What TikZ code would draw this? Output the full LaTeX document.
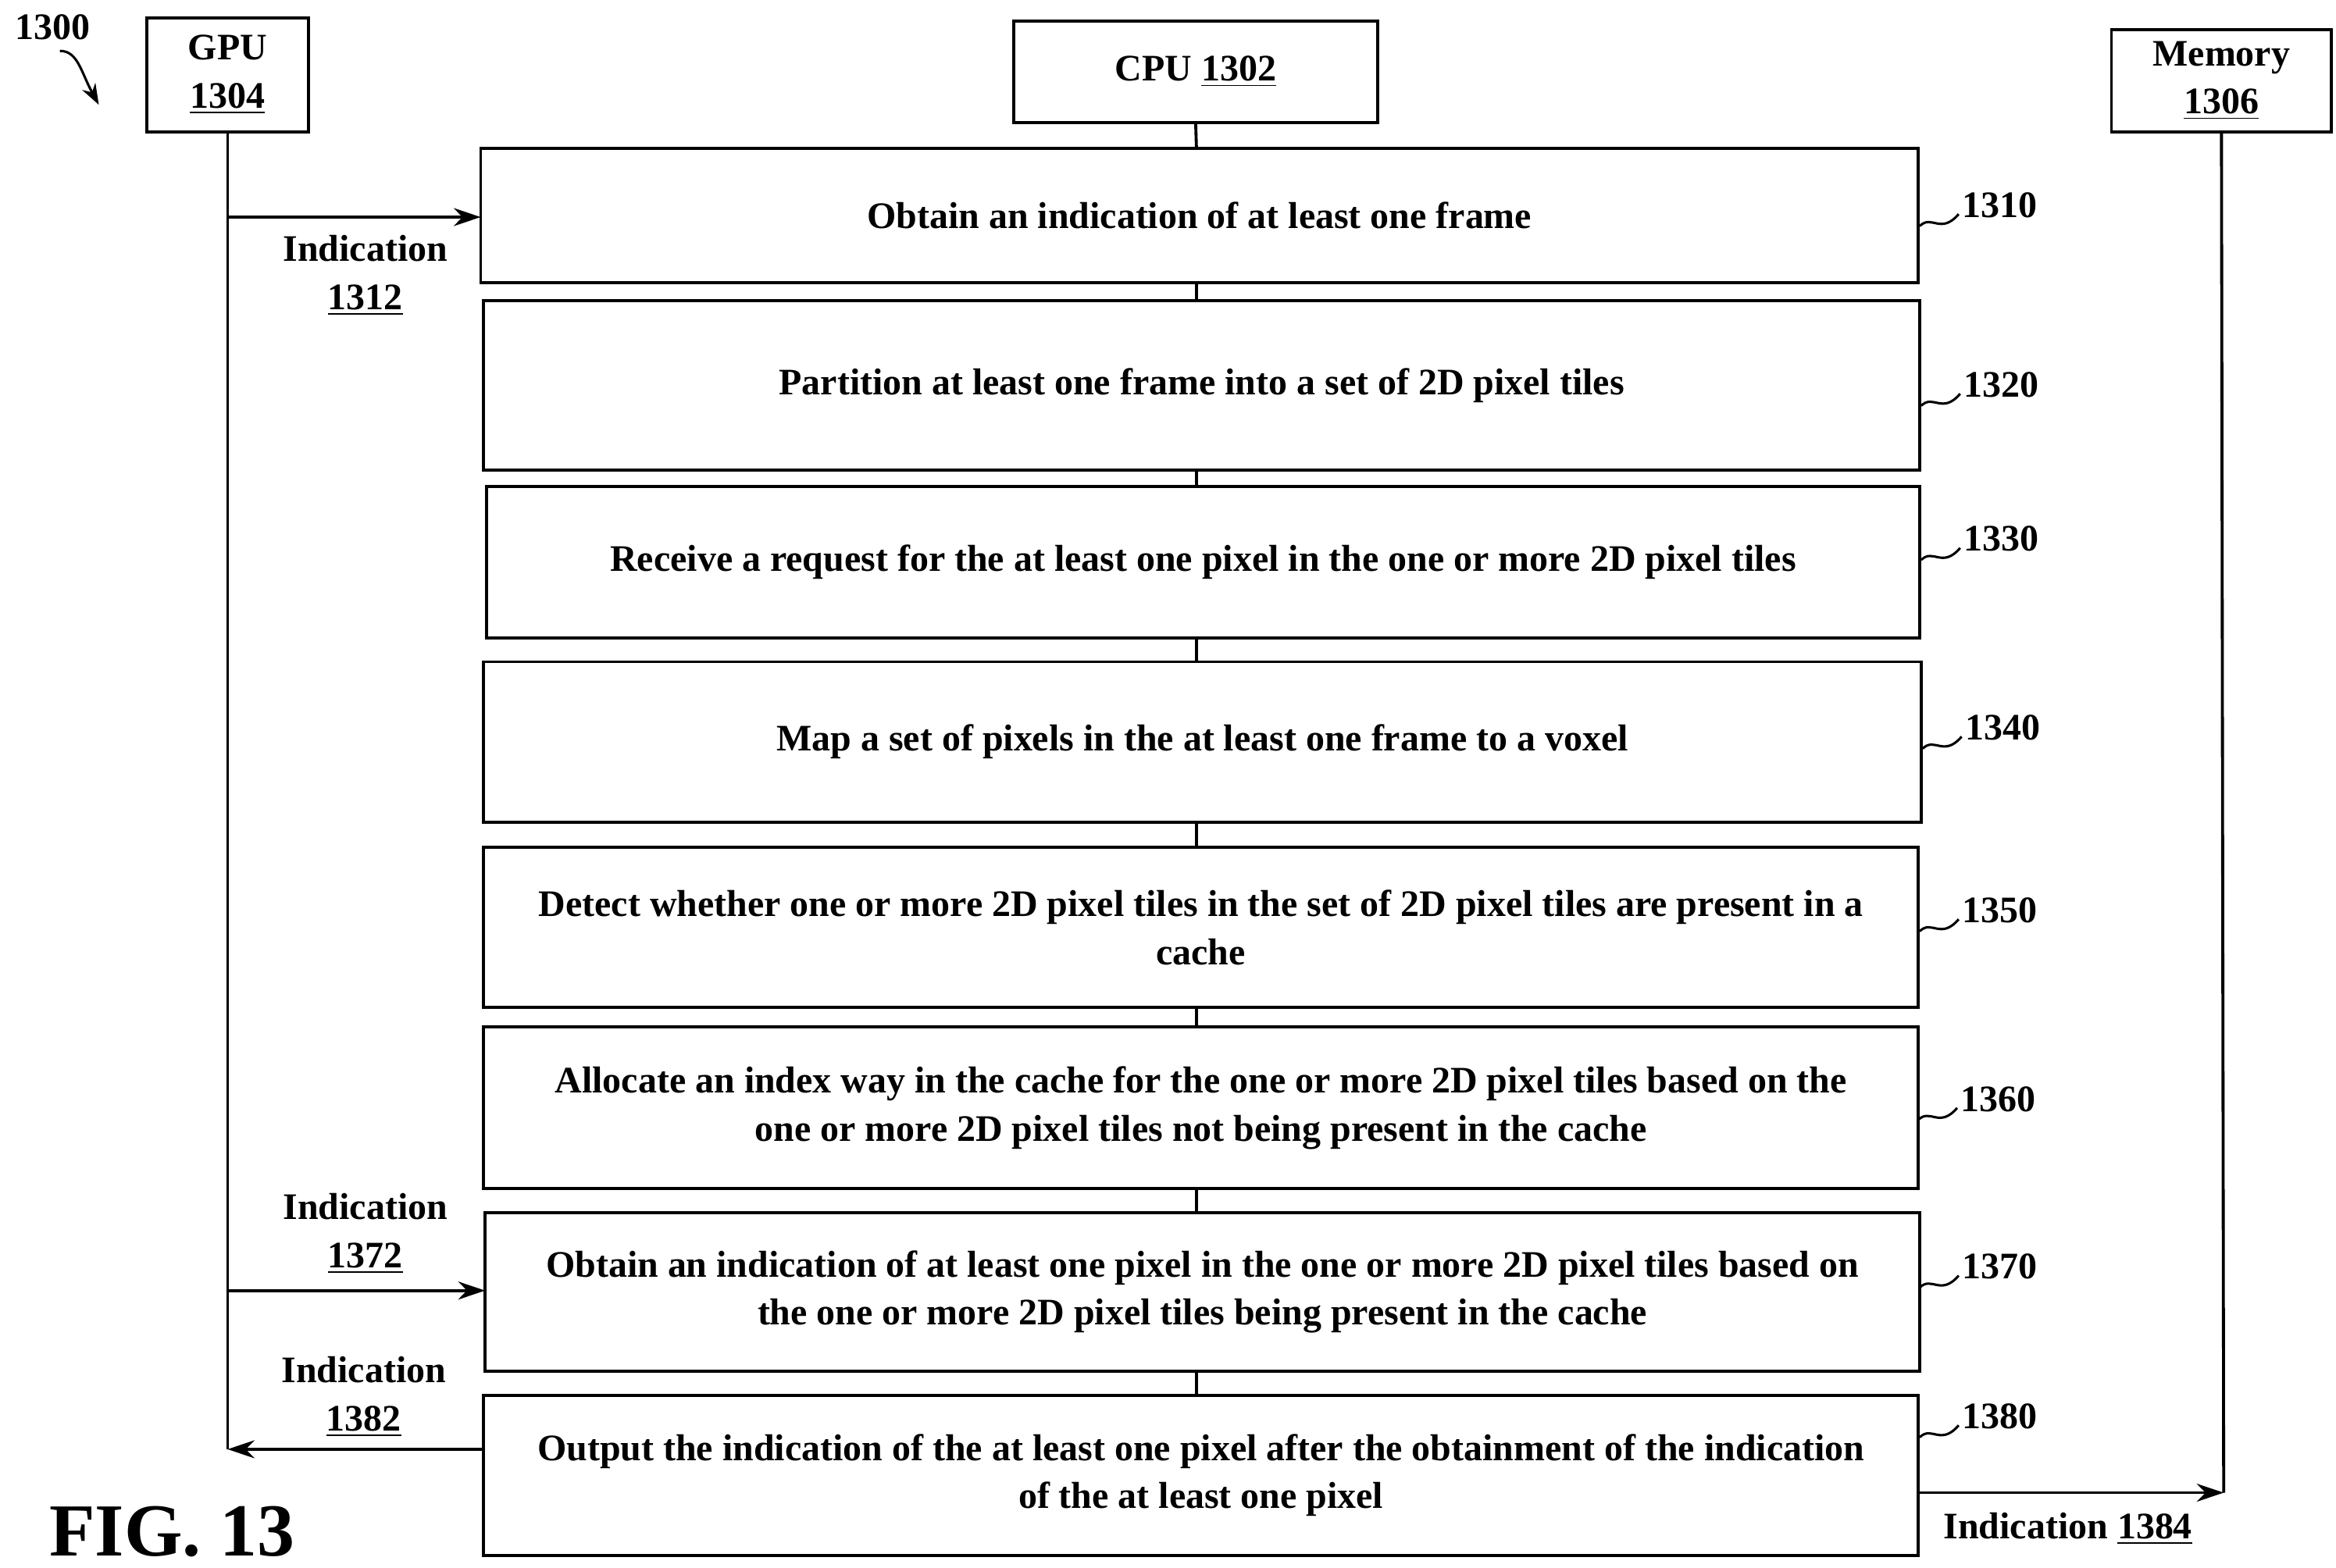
\documentclass[tikz,border=0pt]{standalone}
\usepackage{fontspec}
\setmainfont{Liberation Serif}
\usetikzlibrary{arrows.meta}
\begin{document}
\begin{tikzpicture}[x=0.5pt,y=-0.5pt,
 box/.style={draw,line width=1pt,inner sep=0pt},
 txt/.style={font=\bfseries\fontsize{12.5}{16}\selectfont,align=center},
 arr/.style={line width=1pt,-{Stealth[length=9pt,width=6pt]}},
 sq/.style={line width=0.8pt},
 num/.style={font=\bfseries\fontsize{12.5}{14}\selectfont,anchor=west,inner sep=1pt}]
\useasboundingbox (0,0) rectangle (1560,1047);
\node[box,minimum width=54pt,minimum height=38pt,txt] (gpu) at (152,50) {GPU\\\underline{1304}};
\node[box,minimum width=121.5pt,minimum height=34pt,txt] (cpu) at (798.5,48) {CPU \underline{1302}};
\node[box,minimum width=73.5pt,minimum height=34pt,txt] (mem) at (1483.5,54) {Memory\\\underline{1306}};
\def\bx#1#2#3#4#5#6{\draw[line width=1pt] (#2,#3) rectangle (#4,#5);
 \node[txt] (#1) at ({(#2+#4)/2},{(#3+#5)/2}) {#6};
 \coordinate (#1t) at (799,#3); \coordinate (#1b) at (799,#5);}
\bx{b1310}{321}{99}{1281}{189}{Obtain an indication of at least one frame}
\bx{b1320}{323}{201}{1282}{314}{Partition at least one frame into a set of 2D pixel tiles}
\bx{b1330}{325}{325}{1282}{426}{Receive a request for the at least one pixel in the one or more 2D pixel tiles}
\bx{b1340}{323}{442}{1283}{549}{Map a set of pixels in the at least one frame to a voxel}
\bx{b1350}{323}{566}{1281}{673}{Detect whether one or more 2D pixel tiles in the set of 2D pixel tiles are present in a\\cache}
\bx{b1360}{323}{686}{1281}{794}{Allocate an index way in the cache for the one or more 2D pixel tiles based on the\\one or more 2D pixel tiles not being present in the cache}
\bx{b1370}{324}{810}{1282}{916}{Obtain an indication of at least one pixel in the one or more 2D pixel tiles based on\\the one or more 2D pixel tiles being present in the cache}
\bx{b1380}{323}{932}{1281}{1039}{Output the indication of the at least one pixel after the obtainment of the indication\\of the at least one pixel}
\draw[line width=1pt] (cpu.south) -- (b1310t);
\draw[line width=1pt] (b1310b) -- (b1320t);
\draw[line width=1pt] (b1320b) -- (b1330t);
\draw[line width=1pt] (b1330b) -- (b1340t);
\draw[line width=1pt] (b1340b) -- (b1350t);
\draw[line width=1pt] (b1350b) -- (b1360t);
\draw[line width=1pt] (b1360b) -- (b1370t);
\draw[line width=1pt] (b1370b) -- (b1380t);
\coordinate (gend) at (152,968);
\draw[line width=1pt] (gpu.south) -- (gend);
\coordinate (g1) at (152,145); \coordinate (g2) at (152,862);
\draw[arr] (g1) -- (321,145);
\draw[arr] (g2) -- (324,862);
\draw[arr] (323,968) -- (gend);
\node[txt] (l1312) at (244,184) {Indication\\\underline{1312}};
\node[txt] (l1372) at (244,824) {Indication\\\underline{1372}};
\node[txt] (l1382) at (243,933) {Indication\\\underline{1382}};
\coordinate (mend) at (1485,997);
\draw[line width=1pt] (mem.south) -- (mend);
\draw[arr] (1281,997) -- (mend);
\node[txt] (l1384) at (1381,1021) {Indication \underline{1384}};
\def\rn#1#2#3{\draw[sq] (#2,#3+8) .. controls (#2+8,#3) and (#2+14,#3+14) .. (#2+26,#3);
 \node[num] at (#2+26,#3-6) {#1};}
\rn{1310}{1282}{143}
\rn{1320}{1283}{263}
\rn{1330}{1283}{366}
\rn{1340}{1284}{492}
\rn{1350}{1282}{614}
\rn{1360}{1281}{740}
\rn{1370}{1282}{852}
\rn{1380}{1282}{952}
\node[font=\bfseries\fontsize{12.5}{14}\selectfont] (n1300) at (35,18) {1300};
\draw[line width=0.8pt,-{Stealth[length=7pt,width=5pt]}] (40,34) .. controls (52,34) and (54,48) .. (66,70);
\node[font=\bfseries\fontsize{25}{30}\selectfont] (fig) at (115,1023) {FIG. 13};
\end{tikzpicture}
\end{document}
